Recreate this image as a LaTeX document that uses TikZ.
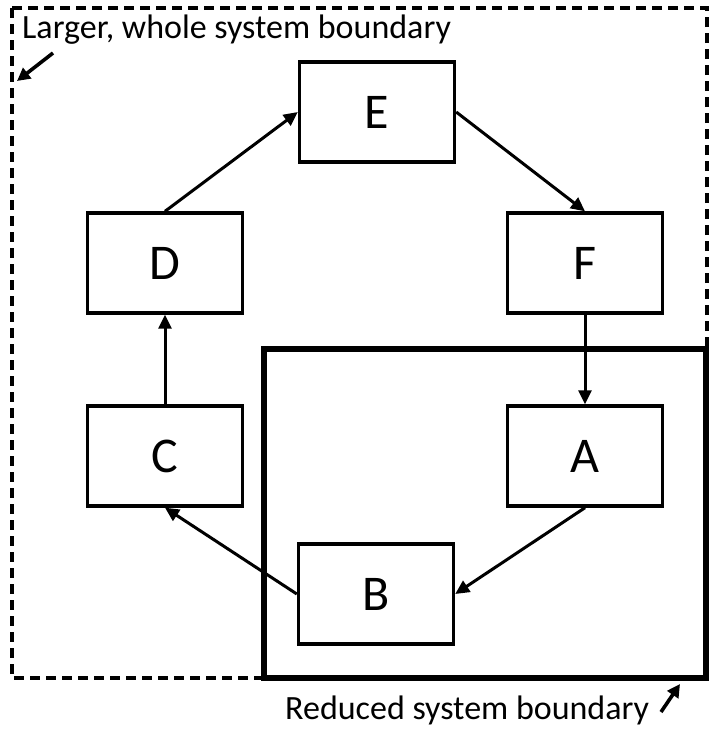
\documentclass[tikz,border=0pt]{standalone}
\usepackage{fontspec}
\setmainfont{Carlito}
\usetikzlibrary{arrows.meta}
\begin{document}
\begin{tikzpicture}[x=1pt,y=-1pt,
  blk/.style={draw,line width=3.4pt,minimum width=155pt,minimum height=100pt,inner sep=0pt,font=\fontsize{50}{52}\selectfont},
  conn/.style={line width=3pt,-{Triangle[length=14pt,width=13pt]}},
  lbl/.style={font=\fontsize{34}{36}\selectfont,anchor=west,inner sep=0pt},
  small/.style={line width=3.6pt,-{Triangle[length=13pt,width=13pt]}}]
\useasboundingbox (0,0) rectangle (711,737);
\draw[line width=3.2pt,dash pattern=on 10pt off 6pt] (12,8) rectangle (707,678);
\draw[line width=5.5pt] (264,349) rectangle (706,678);
\node[blk] (E) at (377,112) {E};
\node[blk] (D) at (165,263) {D};
\node[blk] (F) at (585,263) {F};
\node[blk] (C) at (165,456) {C};
\node[blk] (A) at (585,456) {A};
\node[blk] (B) at (376,594) {B};
\draw[conn] (D.north) -- (E.west);
\draw[conn] (E.east) -- (F.north);
\draw[conn] (F.south) -- (A.north);
\draw[conn] (A.south) -- (B.east);
\draw[conn] (B.west) -- (C.south);
\draw[conn] (C.north) -- (D.south);
\node[lbl] (L1) at (22,30) {Larger, whole system boundary};
\node[lbl] (L2) at (285,710) {Reduced system boundary};
\coordinate (p1) at (53,53);
\coordinate (q1) at (17,81);
\coordinate (p2) at (661,712);
\coordinate (q2) at (680,684);
\draw[small] (p1) -- (q1);
\draw[small] (p2) -- (q2);
\end{tikzpicture}
\end{document}
